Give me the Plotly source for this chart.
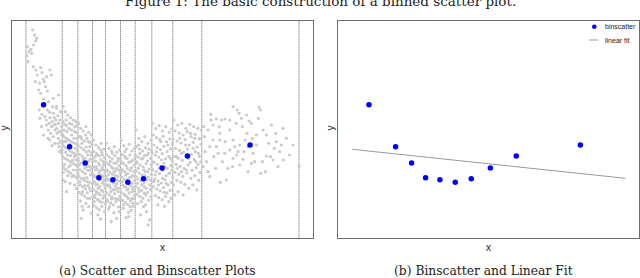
import plotly.graph_objects as go

title_text = "Figure 1: The basic construction of a binned scatter plot."
caption_a = "(a) Scatter and Binscatter Plots"
caption_b = "(b) Binscatter and Linear Fit"
legend_labels = ["binscatter", "linear fit"]

# bin boundaries (x) and binned means
bin_edges = [78, 187, 234, 278, 317, 362, 406, 456, 519, 606, 898]
bin_x = [131, 209, 256, 297, 339, 384, 431, 487, 563, 751]
bin_y = [401, 275, 226, 182, 176, 168, 179, 211, 247, 280]
fit_x = [82, 883]
fit_y = [267, 180]

scatter_bin1 = [(98,625),(104,610),(107,592),(101,580),(93,567),(87,560),(82,575),(80,548),(95,555),(110,600),(84,530),
 (100,515),(108,505),(122,512),(126,497),(112,490),(130,478),(119,466),(137,455),(150,505),(154,490),(142,442),(122,435),
 (131,418),(146,410),(160,420),(176,430),(116,445),(133,470),(106,470),(140,485),(170,395),(183,380),
 (118,385),(126,372),(139,355),(150,362),(155,335),(165,325),(171,315),(160,305),(175,300),(180,355),(185,335),(125,335),
 (145,325),(131,310),(150,295),(165,285),(178,275),(185,265),(135,365),(142,385),(160,375),(170,390),(182,380),(176,345),
 (168,355),(162,340),(152,315),(148,345),(185,310),(186,255),(179,260),(157,350),(163,362),(174,368),(140,340),(128,395),
 (120,360),(144,300),(156,278),(170,330),(181,292),(183,320),(177,320),(158,395),(149,378),(166,342),(175,285),(186,285)]
scatter_bin2 = [(190,395),(196,380),(203,370),(212,362),(220,355),(228,350),(232,340),(189,350),(194,342),(200,338),(207,330),
 (215,325),(224,320),(230,318),(188,310),(192,305),(199,300),(205,296),(211,292),(218,288),(226,285),(233,280),(190,278),
 (197,272),(204,268),(210,262),(217,258),(223,255),(229,250),(188,245),(195,240),(202,236),(208,232),(214,228),(221,224),
 (227,220),(233,215),(191,212),(198,206),(205,200),(212,196),(219,190),(226,186),(232,180),(189,175),(196,170),(210,165),
 (224,160),(230,150),(200,140),(216,185),(203,250),(213,275),(222,300),(193,325),(209,345),(226,270),(218,235),(198,290),
 (231,300),(187,265),(206,214),(228,235),(194,222),(215,310),(201,320),(225,335),(212,248),(190,198),(220,205),(233,262),
 (197,258),(208,282),(229,205),(216,342),(204,188),(192,290),(224,245),(211,218),(199,355)]
scatter_bin3 = [(236,345),(242,330),(250,322),(258,335),(266,318),(274,310),(238,305),(245,298),(253,292),(261,300),(270,288),
 (277,282),(235,278),(243,272),(251,266),(259,274),(267,262),(275,258),(239,252),(247,246),(255,240),(263,250),(271,238),
 (236,232),(244,226),(252,220),(260,228),(268,216),(276,212),(240,206),(248,200),(256,194),(264,204),(272,190),(237,186),
 (245,180),(253,174),(261,182),(269,168),(277,164),(241,160),(249,154),(257,148),(265,158),(273,142),(238,138),(246,132),
 (254,126),(262,136),(270,120),(242,112),(258,105),(266,95),(250,85),(274,75),(244,60),(262,170),(234,195),(250,236),
 (270,275),(257,310),(246,285),(266,232),(276,195),(240,170),(255,210),(263,120),(273,250),(248,140),(259,260),(235,240),
 (269,150),(252,180),(278,230),(243,305),(261,215),(247,96),(271,205),(255,158),(238,220),(265,290)]
scatter_bin4 = [(280,295),(288,280),(296,272),(304,285),(312,268),(282,260),(290,254),(298,248),(306,258),(314,242),(279,238),
 (287,232),(295,226),(303,236),(311,220),(283,214),(291,208),(299,202),(307,212),(315,196),(280,192),(288,186),(296,180),
 (304,190),(312,174),(284,168),(292,162),(300,156),(308,166),(316,150),(281,146),(289,140),(297,134),(305,144),(313,128),
 (285,122),(293,116),(301,110),(309,120),(317,104),(282,98),(290,92),(298,86),(306,96),(314,80),(294,70),(302,58),(286,130),
 (300,175),(310,230),(292,250),(283,185),(305,205),(296,115),(288,160),(314,160),(279,125),(299,220),(309,140),(287,205),
 (303,265),(291,138),(311,186),(285,245),(297,195),(307,108),(281,170),(315,225),(293,180),(301,130),(289,215),(308,250),
 (295,150),(283,110),(312,205)]
scatter_bin5 = [(319,285),(327,270),(335,262),(343,275),(351,258),(359,265),(321,250),(329,244),(337,238),(345,248),(353,232),
 (361,240),(318,228),(326,222),(334,216),(342,226),(350,210),(358,218),(322,204),(330,198),(338,192),(346,202),(354,186),
 (362,194),(319,182),(327,176),(335,170),(343,180),(351,164),(359,172),(323,158),(331,152),(339,146),(347,156),(355,140),
 (320,136),(328,130),(336,124),(344,134),(352,118),(360,126),(324,112),(332,106),(340,100),(348,110),(356,94),(326,88),
 (342,76),(350,60),(334,50),(358,80),(325,190),(339,210),(353,150),(331,230),(345,120),(318,160),(357,205),(333,140),
 (347,188),(321,115),(341,165),(355,240),(329,95),(349,225),(337,255),(361,150),(323,175),(343,200),(352,175),(335,118),
 (319,205),(346,145),(358,115),(328,160)]
scatter_bin6 = [(364,295),(372,278),(380,268),(388,282),(396,262),(404,270),(366,252),(374,246),(382,240),(390,250),(398,234),
 (406,242),(363,230),(371,224),(379,218),(387,228),(395,212),(403,220),(367,206),(375,200),(383,194),(391,204),(399,188),
 (365,184),(373,178),(381,172),(389,182),(397,166),(405,174),(369,160),(377,154),(385,148),(393,158),(401,142),(364,138),
 (372,132),(380,126),(388,136),(396,120),(404,128),(368,114),(376,108),(384,102),(392,112),(400,96),(370,90),(386,78),
 (378,62),(394,84),(398,150),(367,170),(383,210),(395,185),(375,130),(402,200),(371,100),(389,160),(379,240),(385,120),
 (363,200),(397,140),(381,145),(369,225),(391,95),(377,190),(405,155),(387,65),(373,155),(393,230),(365,115),(399,105),
 (383,176),(375,260),(401,118)]
scatter_bin7 = [(408,325),(417,300),(426,290),(435,305),(444,285),(453,295),(410,275),(419,268),(428,262),(437,272),(446,256),
 (455,264),(407,250),(416,244),(425,238),(434,248),(443,232),(452,240),(412,226),(421,220),(430,214),(439,224),(448,208),
 (409,202),(418,196),(427,190),(436,200),(445,184),(454,192),(414,178),(423,172),(432,166),(441,176),(450,160),(407,156),
 (416,150),(425,144),(434,154),(443,138),(452,146),(411,132),(420,126),(429,120),(438,130),(447,114),(413,104),(431,95),
 (440,80),(422,70),(449,55),(445,40),(428,180),(415,210),(442,250),(433,135),(408,185),(451,175),(420,255),(437,100),
 (426,160),(454,220),(418,140),(444,200),(410,230),(435,188),(424,110),(447,268),(412,165),(439,150),(429,240),(453,125),
 (417,280),(432,205)]
scatter_bin8 = [(458,345),(468,330),(478,338),(488,322),(498,335),(508,318),(516,328),(460,310),(470,302),(480,296),(490,306),
 (500,290),(510,298),(518,284),(462,280),(472,272),(482,266),(492,276),(502,260),(512,268),(457,256),(467,250),(477,244),
 (487,254),(497,238),(507,246),(517,232),(463,228),(473,222),(483,216),(493,226),(503,210),(513,218),(459,206),(469,200),
 (479,194),(489,204),(499,188),(509,196),(519,182),(465,178),(475,172),(485,166),(495,176),(505,160),(515,168),(461,154),
 (471,148),(481,142),(491,152),(501,136),(511,144),(467,128),(477,122),(487,116),(497,126),(507,110),(474,100),(494,96),
 (514,120),(485,235),(466,190),(504,280),(476,160),(495,215),(512,240),(483,290),(458,230),(499,165),(470,260),(508,195),
 (488,180),(462,170),(516,205),(478,210),(493,138)]
scatter_bin9 = [(522,355),(534,340),(546,345),(558,330),(570,342),(582,335),(594,330),(604,325),(526,322),(538,316),(550,310),
 (562,320),(574,305),(586,312),(598,298),(520,298),(532,292),(544,286),(556,296),(568,280),(580,288),(592,274),(604,282),
 (527,270),(539,264),(551,258),(563,268),(575,252),(587,260),(599,246),(523,246),(535,240),(547,234),(559,244),(571,228),
 (583,236),(595,222),(529,222),(541,216),(553,210),(565,220),(577,204),(589,212),(601,198),(525,198),(537,192),(549,186),
 (561,196),(573,180),(585,188),(597,174),(531,174),(543,168),(555,162),(567,150),(579,160),(591,145),(603,230),(535,140),
 (550,130),(521,160),(545,255),(580,270),(560,205),(596,255),(530,245),(572,315),(540,300),(588,230),(557,280),(524,130),
 (600,300),(565,240),(545,200),(585,300),(532,210)]
scatter_bin10 = [(633,372),(650,358),(665,355),(676,358),(640,340),(658,335),(690,325),(700,395),(712,385),(718,375),(725,360),
 (740,370),(748,352),(755,345),(778,393),(782,385),(776,360),(790,325),(800,310),(828,315),(845,280),(824,270),(800,247),
 (820,235),(851,235),(835,215),(783,195),(797,200),(745,200),(720,220),(698,215),(711,250),(705,275),(720,280),(736,295),
 (758,300),(770,280),(760,255),(733,260),(715,260),(680,175),(662,168),(630,185),(648,210),(620,230),(616,260),(630,275),
 (640,295),(614,305),(625,325),(660,295),(675,255),(690,265),(700,295),(668,230),(684,210),(655,255),(642,245),(610,215),
 (625,200),(898,218),(840,260),(812,245),(765,230),(730,237),(788,230),(807,285),(770,310),(742,315),(728,335),(690,355),
 (710,345),(660,315),(634,355),(612,335),(650,275),(676,290),(700,240),(745,275),(755,225),(860,300),(870,250),(880,280),
 (850,330),(830,290),(815,340)]

gray_points = (scatter_bin1 + scatter_bin2 + scatter_bin3 + scatter_bin4 + scatter_bin5 +
               scatter_bin6 + scatter_bin7 + scatter_bin8 + scatter_bin9 + scatter_bin10)
gray_x = [p[0] for p in gray_points]
gray_y = [p[1] for p in gray_points]

W, H = 640, 278
def px(x):
    return x / W
def py(y):
    return 1 - y / H

fig = go.Figure()
fig.add_trace(go.Scatter(x=gray_x, y=gray_y, mode="markers", xaxis="x", yaxis="y",
                         marker=dict(size=3.2, color="#cbcbcb", line=dict(width=0)), showlegend=False))
fig.add_trace(go.Scatter(x=bin_x, y=bin_y, mode="markers", xaxis="x", yaxis="y",
                         marker=dict(size=5.5, color="#0000ff", line=dict(width=0)), showlegend=False))
fig.add_trace(go.Scatter(x=fit_x, y=fit_y, mode="lines", xaxis="x2", yaxis="y2",
                         line=dict(color="#9a9a9a", width=1), showlegend=False))
fig.add_trace(go.Scatter(x=bin_x, y=bin_y, mode="markers", xaxis="x2", yaxis="y2",
                         marker=dict(size=5.5, color="#0000ff", line=dict(width=0)), showlegend=False))

ydom = [py(238.3), py(20.5)]
axis_common = dict(showgrid=False, zeroline=False, showticklabels=False, ticks="",
                   showline=True, mirror=True, linecolor="#6e6e6e", linewidth=1.2)
fig.update_layout(
    width=W, height=H, margin=dict(l=0, r=0, t=0, b=0),
    paper_bgcolor="white", plot_bgcolor="white",
    xaxis=dict(domain=[px(12.3), px(313)], range=[37, 940], **axis_common),
    yaxis=dict(domain=ydom, range=[0, 653.5], **axis_common),
    xaxis2=dict(domain=[px(338.3), px(639)], range=[41, 923], anchor="y2", **axis_common),
    yaxis2=dict(domain=ydom, range=[0, 653.5], anchor="x2", **axis_common),
)

shapes = []
for e in bin_edges:
    shapes.append(dict(type="line", xref="x", yref="y domain", x0=e, x1=e, y0=0, y1=1,
                       line=dict(color="#606060", width=1, dash="1px,1px"), layer="below"))
# manual legend
shapes.append(dict(type="circle", xref="paper", yref="paper",
                   x0=px(592.0), x1=px(596.6), y0=py(29.0), y1=py(24.4),
                   fillcolor="#0000ff", line=dict(width=0)))
shapes.append(dict(type="line", xref="paper", yref="paper", x0=px(589), x1=px(598),
                   y0=py(40), y1=py(40), line=dict(color="#9a9a9a", width=1)))
fig.update_layout(shapes=shapes)

sans = "Liberation Sans, Arial, sans-serif"
serif = "DejaVu Serif, serif"
ann = [
    dict(text=title_text, x=0.5, y=py(1.0), xref="paper", yref="paper", showarrow=False,
         xanchor="center", yanchor="middle", font=dict(family=serif, size=13.5, color="#222")),
    dict(text="x", x=px(162.6), y=py(247.5), xref="paper", yref="paper", showarrow=False,
         xanchor="center", yanchor="middle", font=dict(family=sans, size=10, color="#222")),
    dict(text="x", x=px(488.6), y=py(247.5), xref="paper", yref="paper", showarrow=False,
         xanchor="center", yanchor="middle", font=dict(family=sans, size=10, color="#222")),
    dict(text="y", x=px(3.5), y=py(128), xref="paper", yref="paper", showarrow=False, textangle=-90,
         xanchor="center", yanchor="middle", font=dict(family=sans, size=10, color="#222")),
    dict(text="y", x=px(329.5), y=py(128), xref="paper", yref="paper", showarrow=False, textangle=-90,
         xanchor="center", yanchor="middle", font=dict(family=sans, size=10, color="#222")),
    dict(text=caption_a, x=px(157.5), y=py(271.0), xref="paper", yref="paper", showarrow=False,
         xanchor="center", yanchor="middle", font=dict(family=serif, size=12.3, color="#222")),
    dict(text=caption_b, x=px(483), y=py(271.0), xref="paper", yref="paper", showarrow=False,
         xanchor="center", yanchor="middle", font=dict(family=serif, size=12.3, color="#222")),
    dict(text=legend_labels[0], x=px(602.7), y=py(26.7), xref="paper", yref="paper", showarrow=False,
         xanchor="left", yanchor="middle", font=dict(family=sans, size=7, color="#222")),
    dict(text=legend_labels[1], x=px(602.7), y=py(40), xref="paper", yref="paper", showarrow=False,
         xanchor="left", yanchor="middle", font=dict(family=sans, size=7, color="#222")),
]
fig.update_layout(annotations=ann)
fig.write_html("out.html", config={"displayModeBar": False},
               post_script="document.body.style.margin='0';document.body.style.overflow='hidden';")
